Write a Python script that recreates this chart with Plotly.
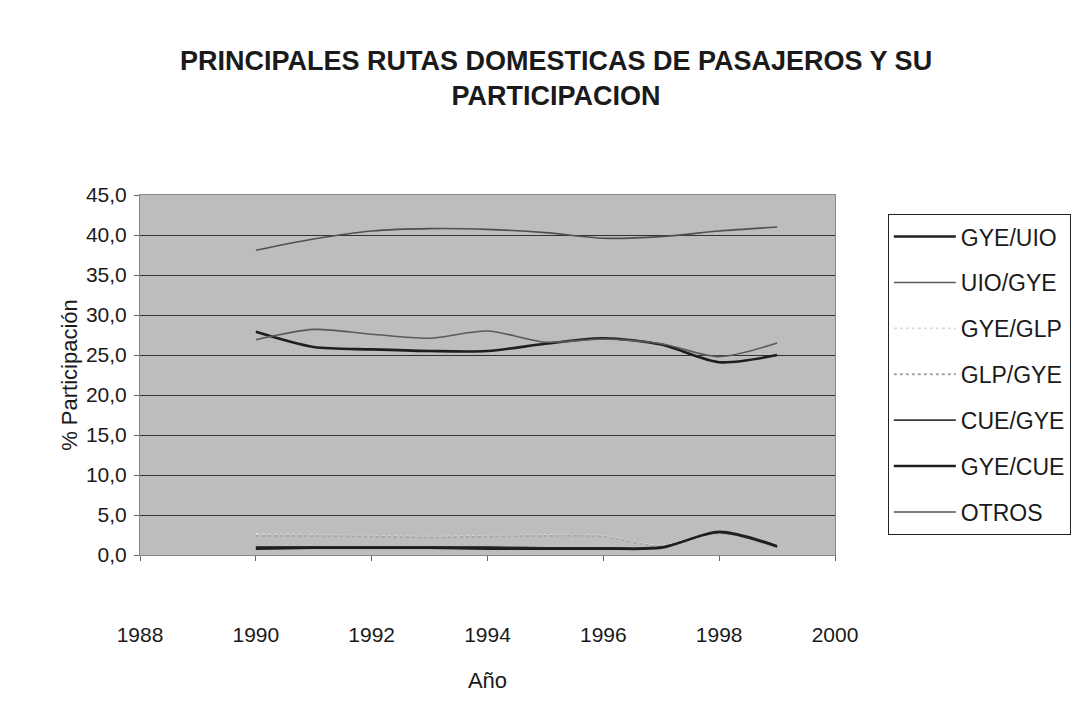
import plotly.graph_objects as go

years = [1990, 1991, 1992, 1993, 1994, 1995, 1996, 1997, 1998, 1999]

gye_uio = [27.9, 26.0, 25.7, 25.5, 25.5, 26.4, 27.1, 26.3, 24.1, 25.0]
uio_gye = [26.9, 28.2, 27.6, 27.1, 28.0, 26.6, 27.0, 26.4, 24.8, 26.5]
gye_glp = [2.6, 2.5, 2.4, 2.3, 2.4, 2.5, 2.4, 1.2, 2.8, 1.0]
glp_gye = [2.4, 2.4, 2.3, 2.2, 2.3, 2.4, 2.3, 1.1, 2.7, 1.0]
cue_gye = [1.0, 1.0, 1.0, 1.0, 1.0, 0.9, 0.9, 1.0, 2.8, 1.0]
gye_cue = [0.8, 0.9, 0.9, 0.9, 0.8, 0.8, 0.8, 0.9, 2.9, 1.1]
otros = [38.1, 39.5, 40.5, 40.8, 40.7, 40.3, 39.6, 39.8, 40.5, 41.0]

series = [
    ("GYE/UIO", gye_uio, "#1e1e1e", 2.6, "solid"),
    ("UIO/GYE", uio_gye, "#5a5a5a", 1.6, "solid"),
    ("GYE/GLP", gye_glp, "#dadada", 1.8, "dot"),
    ("GLP/GYE", glp_gye, "#a4a4a4", 1.8, "dot"),
    ("CUE/GYE", cue_gye, "#3a3a3a", 1.8, "solid"),
    ("GYE/CUE", gye_cue, "#1e1e1e", 2.6, "solid"),
    ("OTROS", otros, "#505050", 1.6, "solid"),
]

fig = go.Figure()
for name, vals, color, w, dash in series:
    fig.add_trace(go.Scatter(
        x=years, y=vals, name=name, mode="lines",
        line=dict(color=color, width=w, dash=dash, shape="spline", smoothing=0.8),
        legendgroup=name,
    ))

FONT = "Liberation Sans, Arial, sans-serif"

fig.update_layout(
    width=1081, height=702,
    paper_bgcolor="white",
    plot_bgcolor="#bdbdbd",
    separators=",.",
    margin=dict(l=132, r=254, t=187, b=155),
    font=dict(family=FONT, size=20, color="#1a1a1a"),
    title=dict(
        text="<b>PRINCIPALES RUTAS DOMESTICAS DE PASAJEROS Y SU<br>PARTICIPACION</b>",
        xref="container", x=0.507, xanchor="center",
        yref="container", y=0.9117, yanchor="middle",
        font=dict(family=FONT, size=27, color="#1a1a1a"),
    ),
    showlegend=True,
    legend=dict(
        x=1.076, xanchor="left", y=0.947, yanchor="top",
        bordercolor="#222", borderwidth=1, bgcolor="white",
        font=dict(family=FONT, size=23, color="#1a1a1a"),
        traceorder="grouped", tracegroupgap=13, itemwidth=62,
    ),
    xaxis=dict(
        range=[1988, 2000], dtick=2, tick0=1988,
        showgrid=False, zeroline=False,
        showline=True, linecolor="#888", linewidth=1, mirror=True,
        ticks="outside", ticklen=5, tickcolor="#666",
        ticklabelstandoff=56,
        title=dict(text="Año", font=dict(family=FONT, size=22), standoff=27),
        tickfont=dict(family=FONT, size=21),
    ),
    yaxis=dict(
        range=[0, 45], dtick=5, tick0=0, tickformat=".1f",
        showgrid=True, gridcolor="#333", gridwidth=1, zeroline=False,
        showline=True, linecolor="#888", linewidth=1, mirror=True,
        ticks="outside", ticklen=5, tickcolor="#666",
        ticklabelstandoff=3,
        title=dict(text="% Participación", font=dict(family=FONT, size=22), standoff=2),
        tickfont=dict(family=FONT, size=21),
    ),
)

fig.write_html("out.html")
